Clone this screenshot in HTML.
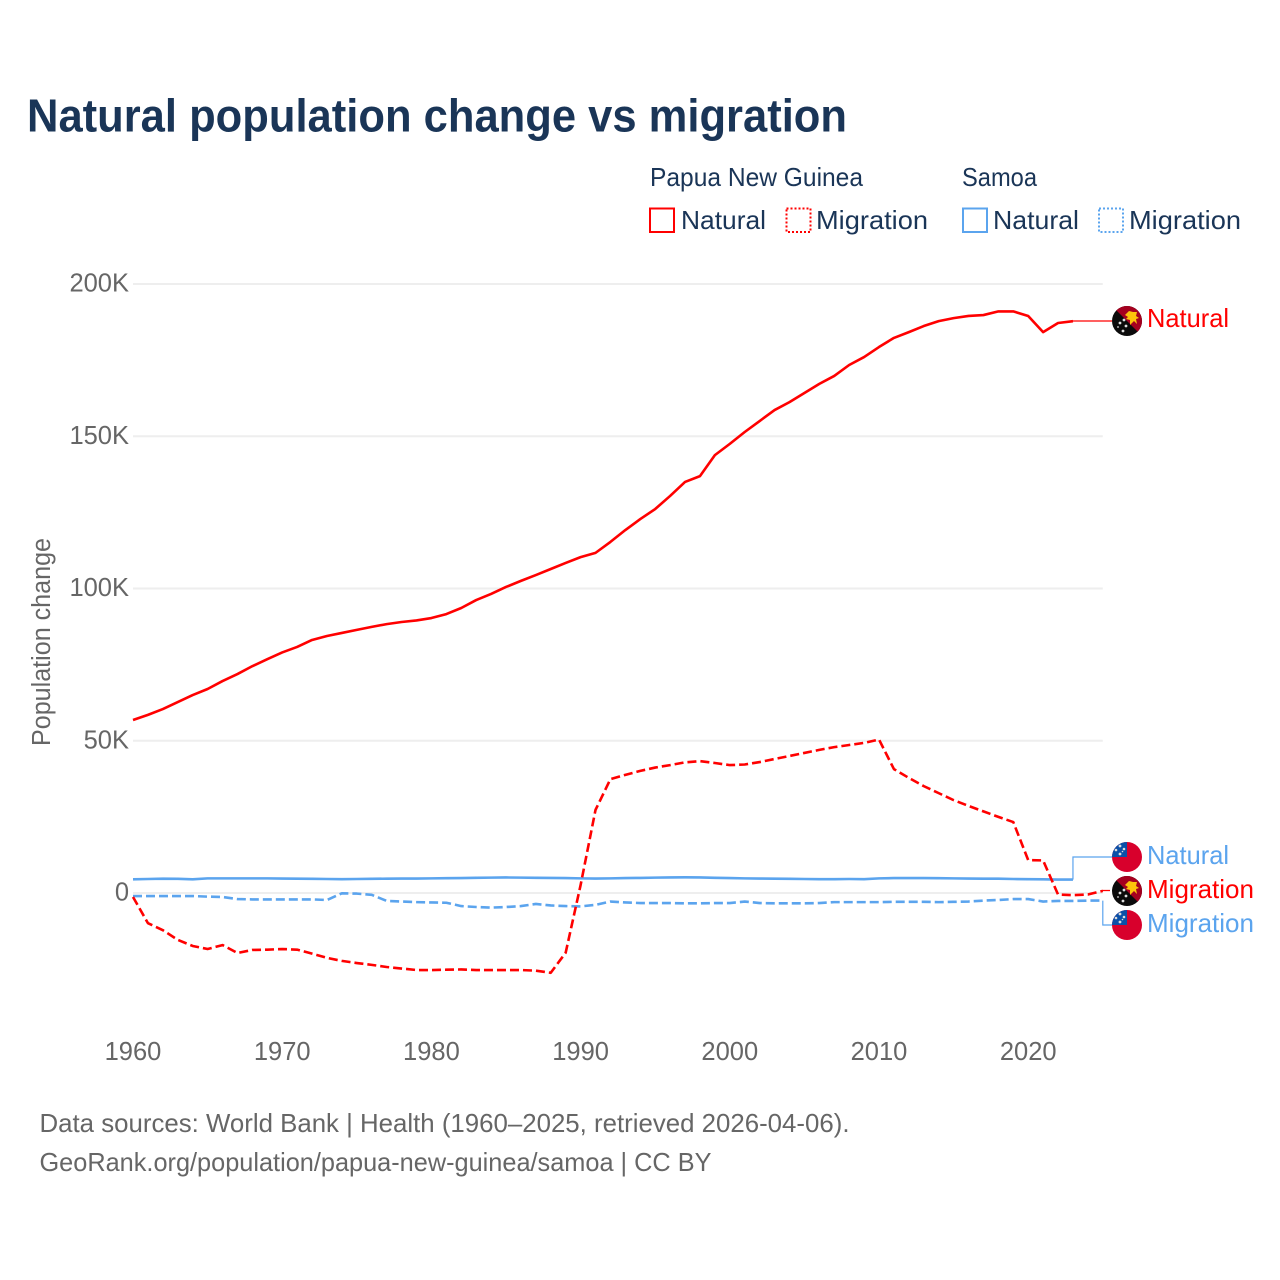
<!DOCTYPE html>
<html lang="en">
<head>
<meta charset="utf-8">
<title>Natural population change vs migration</title>
<style>
  html, body { margin: 0; padding: 0; background: #fff; }
  svg { display: block; font-family: "Liberation Sans", sans-serif; }
  .tick { font-size: 25.5px; fill: #666; }
  .leg { font-size: 26px; fill: #1a3557; }
  .lab { font-size: 26px; }
  .foot { font-size: 26px; fill: #666; }
</style>
</head>
<body>
<svg id="chart" xmlns="http://www.w3.org/2000/svg" width="1280" height="1280" viewBox="0 0 1280 1280">
  <rect width="1280" height="1280" fill="#fff"/>
  <defs>
    <clipPath id="flag-clip"><circle cx="0" cy="0" r="15"/></clipPath>
    <g id="flag-png">
      <g clip-path="url(#flag-clip)">
        <rect x="-15" y="-15" width="30" height="30" fill="#0b0b0b"/>
        <polygon points="-15,-15 15,-15 15,15" fill="#a5001f"/>
        <path d="M-2,-6 L2,-10 L6,-9 L10,-9 L9,-5 L12,-3 L9,-2 L10,3 L7,0 L3,4 L3,-1 L-1,-2 L1,-4 Z" fill="#fcc30b"/>
        <g fill="#ddd">
          <circle cx="-7" cy="2" r="1.4"/><circle cx="-3" cy="-1" r="1.4"/><circle cx="-1" cy="5" r="1.4"/><circle cx="-4" cy="10" r="1.4"/><circle cx="-9" cy="6" r="0.9"/>
        </g>
      </g>
    </g>
    <g id="flag-wsm">
      <g clip-path="url(#flag-clip)">
        <rect x="-15" y="-15" width="30" height="30" fill="#d8002c"/>
        <rect x="-15" y="-15" width="15" height="15" fill="#0a50a8"/>
        <g fill="#ddd">
          <circle cx="-7" cy="-11" r="1.4"/><circle cx="-3" cy="-8" r="1.3"/><circle cx="-11" cy="-7" r="1.3"/><circle cx="-7" cy="-3" r="1.4"/><circle cx="-4.5" cy="-5.5" r="0.8"/>
        </g>
      </g>
    </g>
  </defs>

  <text x="27" y="131.5" font-size="46" font-weight="700" fill="#1a3557" textLength="820" lengthAdjust="spacingAndGlyphs">Natural population change vs migration</text>

  <g>
    <text class="leg" x="650" y="186" textLength="213" lengthAdjust="spacingAndGlyphs">Papua New Guinea</text>
    <text class="leg" x="962" y="186" textLength="75" lengthAdjust="spacingAndGlyphs">Samoa</text>

    <rect x="650" y="208.5" width="24" height="23.5" fill="none" stroke="#ff0000" stroke-width="2"/>
    <text class="leg" x="681" y="229" textLength="85" lengthAdjust="spacingAndGlyphs">Natural</text>
    <rect x="786.5" y="208.5" width="24" height="23.5" fill="none" stroke="#ff0000" stroke-width="2" stroke-dasharray="2 2"/>
    <text class="leg" x="816" y="229" textLength="112" lengthAdjust="spacingAndGlyphs">Migration</text>

    <rect x="963" y="208.5" width="24" height="23.5" fill="none" stroke="#5ba4ee" stroke-width="2"/>
    <text class="leg" x="993" y="229" textLength="86" lengthAdjust="spacingAndGlyphs">Natural</text>
    <rect x="1099" y="208.5" width="24" height="23.5" fill="none" stroke="#5ba4ee" stroke-width="2" stroke-dasharray="2 2"/>
    <text class="leg" x="1129" y="229" textLength="112" lengthAdjust="spacingAndGlyphs">Migration</text>
  </g>

  <text class="tick" transform="translate(50,746) rotate(-90)" x="0" y="0" textLength="208" lengthAdjust="spacingAndGlyphs">Population change</text>

  <g id="grid"></g>
  <g id="y-ticks"></g>
  <g id="x-ticks"></g>
  <g id="connectors"></g>
  <g id="series"></g>

  <g>
    <use href="#flag-png" x="1127" y="321"/>
    <text class="lab" x="1147" y="327" fill="#ff0000" textLength="82" lengthAdjust="spacingAndGlyphs">Natural</text>
    <use href="#flag-wsm" x="1127" y="857"/>
    <text class="lab" x="1147" y="864" fill="#5ba4ee" textLength="82" lengthAdjust="spacingAndGlyphs">Natural</text>
    <use href="#flag-png" x="1127" y="891"/>
    <text class="lab" x="1147" y="898" fill="#ff0000" textLength="107" lengthAdjust="spacingAndGlyphs">Migration</text>
    <use href="#flag-wsm" x="1127" y="925"/>
    <text class="lab" x="1147" y="932" fill="#5ba4ee" textLength="107" lengthAdjust="spacingAndGlyphs">Migration</text>
  </g>

  <text class="foot" x="39.5" y="1132" textLength="810" lengthAdjust="spacingAndGlyphs">Data sources: World Bank | Health (1960–2025, retrieved 2026-04-06).</text>
  <text class="foot" x="39.5" y="1171" textLength="672" lengthAdjust="spacingAndGlyphs">GeoRank.org/population/papua-new-guinea/samoa | CC BY</text>
</svg>

<script>
const startYear = 1960;
const yTickValues = [0, 50, 100, 150, 200];
const yTickLabels = ["0", "50K", "100K", "150K", "200K"];
const xTickValues = [1960, 1970, 1980, 1990, 2000, 2010, 2020];

// All series in thousands, one value per year starting at 1960.
const pngNatural = [56.8,58.5,60.4,62.7,65.0,67.0,69.6,71.9,74.5,76.8,79.0,80.8,83.1,84.4,85.4,86.4,87.4,88.3,89.0,89.5,90.3,91.6,93.6,96.2,98.2,100.5,102.5,104.4,106.4,108.4,110.3,111.7,115.3,119.2,122.8,126.1,130.4,135.0,136.9,143.8,147.5,151.4,155.0,158.6,161.2,164.2,167.2,169.8,173.4,176.0,179.3,182.3,184.2,186.2,187.8,188.8,189.5,189.8,191.0,191.0,189.5,184.2,187.2,187.8];
const pngMigration = [-1.3,-9.9,-12.2,-15.4,-17.4,-18.4,-17.1,-19.7,-18.7,-18.6,-18.4,-18.6,-19.9,-21.3,-22.3,-23.0,-23.6,-24.3,-24.8,-25.3,-25.3,-25.2,-25.1,-25.3,-25.3,-25.3,-25.3,-25.5,-26.2,-19.6,2.6,27.3,37.4,38.8,40.1,41.2,42.0,42.9,43.3,42.7,42.0,42.2,43.0,44.0,45.0,46.0,47.0,47.9,48.6,49.3,50.4,40.7,37.8,35.1,32.8,30.5,28.6,26.8,25.0,23.3,10.8,10.7,-0.5,-0.7,-0.5,0.7];
const samoaNatural = [4.5,4.6,4.7,4.65,4.5,4.8,4.8,4.8,4.8,4.8,4.75,4.7,4.65,4.6,4.55,4.6,4.65,4.7,4.75,4.75,4.8,4.85,4.9,5.0,5.05,5.1,5.05,5.0,4.95,4.9,4.8,4.75,4.8,4.9,4.95,5.05,5.1,5.15,5.1,5.0,4.9,4.8,4.75,4.7,4.65,4.6,4.55,4.55,4.6,4.55,4.8,4.9,4.9,4.9,4.85,4.8,4.75,4.7,4.7,4.6,4.55,4.5,4.4,4.4];
const samoaMigration = [-1.0,-1.0,-1.0,-1.0,-1.0,-1.2,-1.3,-2.0,-2.1,-2.1,-2.1,-2.1,-2.1,-2.3,-0.1,-0.2,-0.6,-2.6,-2.8,-3.0,-3.1,-3.2,-4.3,-4.6,-4.8,-4.6,-4.3,-3.6,-4.1,-4.3,-4.4,-3.9,-2.8,-3.1,-3.3,-3.3,-3.3,-3.4,-3.4,-3.3,-3.3,-2.8,-3.3,-3.4,-3.4,-3.4,-3.3,-3.0,-3.0,-3.0,-3.0,-2.9,-2.9,-2.9,-3.0,-2.9,-2.8,-2.5,-2.3,-2.0,-2.0,-2.8,-2.6,-2.6,-2.5,-2.5];

const xScale = function (year) { return 133 + (year - 1960) * 14.92; };
const yScale = function (value) { return 893 - value * 3.045; };
const NS = "http://www.w3.org/2000/svg";

const gridGroup = document.getElementById("grid");
const yTickGroup = document.getElementById("y-ticks");
const xTickGroup = document.getElementById("x-ticks");
const seriesGroup = document.getElementById("series");
const connectorGroup = document.getElementById("connectors");

yTickValues.forEach(function (value, i) {
  const line = document.createElementNS(NS, "line");
  line.setAttribute("x1", xScale(1960));
  line.setAttribute("x2", xScale(2025));
  line.setAttribute("y1", yScale(value));
  line.setAttribute("y2", yScale(value));
  line.setAttribute("stroke", "#eeeeee");
  line.setAttribute("stroke-width", "2");
  
  
  gridGroup.appendChild(line);

  const label = document.createElementNS(NS, "text");
  label.setAttribute("class", "tick");
  label.setAttribute("x", 129);
  label.setAttribute("y", yScale(value) + 7.5);
  label.setAttribute("text-anchor", "end");
  label.textContent = yTickLabels[i];
  
  
  yTickGroup.appendChild(label);
});

xTickValues.forEach(function (year) {
  const label = document.createElementNS(NS, "text");
  label.setAttribute("class", "tick");
  label.setAttribute("x", xScale(year));
  label.setAttribute("y", 1060);
  label.setAttribute("text-anchor", "middle");
  label.textContent = String(year);
  
  
  xTickGroup.appendChild(label);
});

function pointsFor(values) {
  return values.map(function (v, i) {
    return xScale(startYear + i).toFixed(2) + "," + yScale(v).toFixed(2);
  }).join(" ");
}

function drawSeries(values, color, dashed, name) {
  const line = document.createElementNS(NS, "polyline");
  line.setAttribute("points", pointsFor(values));
  line.setAttribute("fill", "none");
  line.setAttribute("stroke", color);
  line.setAttribute("stroke-width", "2.6");
  line.setAttribute("stroke-linejoin", "round");
  if (dashed) { line.setAttribute("stroke-dasharray", "9 4"); }
  
  
  seriesGroup.appendChild(line);
}

function drawConnector(values, labelY, color, bendX, endX) {
  const lastX = xScale(startYear + values.length - 1);
  const lastY = yScale(values[values.length - 1]);
  const path = document.createElementNS(NS, "polyline");
  path.setAttribute("points", lastX + "," + lastY + " " + (lastX + bendX) + "," + lastY + " " + (lastX + bendX) + "," + labelY + " " + endX + "," + labelY);
  path.setAttribute("fill", "none");
  path.setAttribute("stroke", color);
  path.setAttribute("stroke-width", "1.2");
  
  
  connectorGroup.appendChild(path);
}

drawConnector(pngNatural, 321, "#ff0000", 0, 1112);
drawConnector(samoaNatural, 857, "#5ba4ee", 0, 1112);
drawConnector(pngMigration, 890.5, "#ff0000", 0, 1110);
drawConnector(samoaMigration, 925, "#5ba4ee", 0, 1112);

drawSeries(samoaNatural, "#5ba4ee", false, "line-samoa-natural");
drawSeries(samoaMigration, "#5ba4ee", true, "line-samoa-migration");
drawSeries(pngNatural, "#ff0000", false, "line-png-natural");
drawSeries(pngMigration, "#ff0000", true, "line-png-migration");
</script>
</body>
</html>
